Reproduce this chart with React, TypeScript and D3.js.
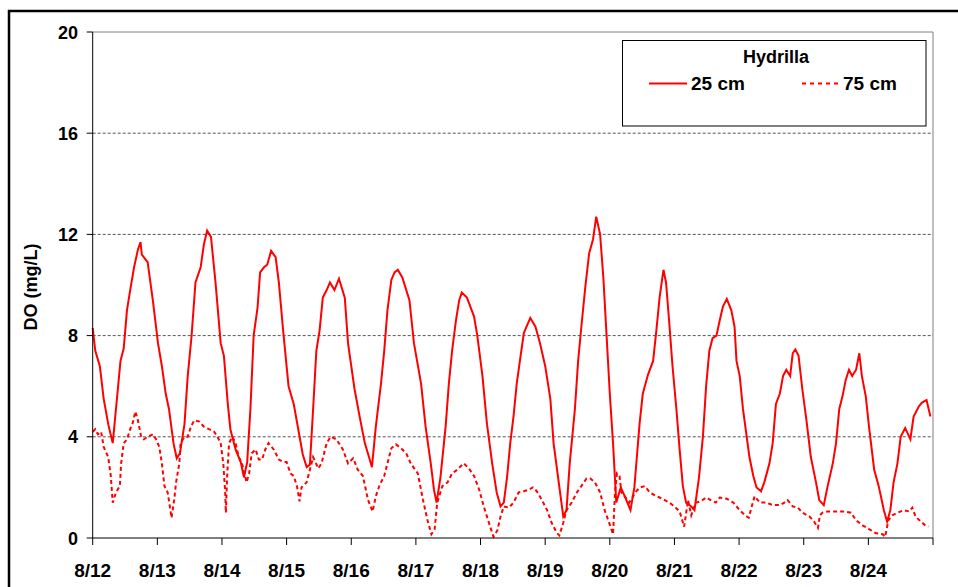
import React from "react";
import * as d3 from "d3";

// Days since 8/12 00:00 and DO (mg/L) at 25 cm depth
const t25 = [
  0.0, 0.04, 0.11, 0.17, 0.24, 0.31, 0.36, 0.43, 0.48, 0.53, 0.58, 0.64, 0.7, 0.74, 0.76, 0.85, 0.93,
  1.01, 1.07, 1.13, 1.18, 1.25, 1.3, 1.35, 1.42, 1.47, 1.53, 1.59, 1.67, 1.72, 1.77, 1.83, 1.9, 1.98,
  2.03, 2.09, 2.13, 2.21, 2.29, 2.34, 2.39, 2.44, 2.49, 2.55, 2.59, 2.65, 2.7, 2.76, 2.83, 2.88, 2.95,
  3.03, 3.11, 3.18, 3.25, 3.31, 3.36, 3.41, 3.46, 3.51, 3.56, 3.62, 3.67, 3.74, 3.81, 3.9, 3.95,
  4.05, 4.13, 4.21, 4.28, 4.32, 4.38, 4.46, 4.51, 4.56, 4.62, 4.67, 4.72, 4.79, 4.9, 4.97,
  5.08, 5.15, 5.23, 5.28, 5.32, 5.38, 5.46, 5.51, 5.56, 5.62, 5.67, 5.71, 5.79, 5.9, 5.95,
  6.03, 6.1, 6.18, 6.25, 6.31, 6.36, 6.41, 6.46, 6.51, 6.56, 6.62, 6.67, 6.72, 6.77, 6.85, 6.92,
  7.0, 7.08, 7.13, 7.21, 7.28, 7.33, 7.38, 7.46, 7.51, 7.56, 7.62, 7.68, 7.74, 7.79, 7.85, 7.9, 7.95,
  8.0, 8.05, 8.1, 8.17, 8.24, 8.32, 8.38, 8.46, 8.51, 8.59, 8.67, 8.72, 8.77, 8.83, 8.87, 8.92, 8.97,
  9.03, 9.08, 9.13, 9.18, 9.26, 9.31, 9.38, 9.44, 9.49, 9.54, 9.59, 9.65, 9.7, 9.75, 9.81, 9.88, 9.93, 9.96,
  10.01, 10.06, 10.11, 10.16, 10.22, 10.27, 10.34, 10.39, 10.47, 10.52, 10.57, 10.63, 10.68, 10.73, 10.79, 10.83, 10.87, 10.92, 10.98,
  11.04, 11.11, 11.19, 11.24, 11.31, 11.37, 11.45, 11.5, 11.55, 11.6, 11.65, 11.7, 11.75, 11.81, 11.86, 11.9, 11.96,
  12.01, 12.09, 12.16, 12.24, 12.29, 12.34, 12.39, 12.45, 12.5, 12.57, 12.65, 12.7, 12.78, 12.83, 12.9, 12.96,
];
const v25 = [
  8.3, 7.4, 6.8, 5.5, 4.5, 3.75, 5.1, 7.0, 7.5, 9.0, 9.8, 10.7, 11.4, 11.7, 11.2, 10.9, 9.4,
  7.7, 6.8, 5.7, 5.1, 3.75, 3.15, 3.35, 4.5, 6.4, 8.0, 10.1, 10.7, 11.6, 12.15, 11.9, 10.1, 7.7,
  7.2, 5.3, 4.3, 3.5, 3.0, 2.4, 3.0, 5.1, 8.0, 9.1, 10.5, 10.7, 10.8, 11.35, 11.1, 10.1, 8.1,
  6.0, 5.3, 4.3, 3.3, 2.8, 2.9, 5.1, 7.4, 8.2, 9.5, 9.8, 10.1, 9.8, 10.25, 9.5, 7.7,
  5.9, 4.8, 3.75, 3.15, 2.8, 4.4, 6.1, 7.4, 9.0, 10.2, 10.5, 10.6, 10.3, 9.4, 7.7,
  6.1, 4.4, 2.95, 1.9, 1.4, 2.4, 4.4, 6.1, 7.4, 8.6, 9.4, 9.7, 9.5, 8.75, 8.0,
  6.4, 4.5, 2.95, 1.8, 1.25, 1.4, 2.4, 3.75, 4.8, 6.1, 7.2, 8.1, 8.4, 8.7, 8.35, 7.7,
  6.8, 5.5, 3.75, 2.2, 0.85, 1.1, 2.95, 5.1, 7.0, 8.35, 9.9, 11.25, 11.8, 12.7, 12.0, 10.3, 8.0,
  5.7, 3.75, 1.4, 2.0, 1.6, 1.1, 2.0, 4.5, 5.7, 6.45, 7.0, 8.2, 9.5, 10.6, 10.1, 8.5, 6.8,
  5.1, 3.5, 2.05, 1.4, 1.25, 1.1, 2.4, 4.0, 6.0, 7.4, 7.9, 8.0, 8.6, 9.15, 9.45, 9.0, 8.35, 7.0,
  6.4, 5.1, 4.15, 3.2, 2.45, 2.0, 1.85, 2.2, 2.95, 3.75, 5.3, 5.7, 6.4, 6.65, 6.4, 7.3, 7.45, 7.2, 5.85,
  4.7, 3.2, 2.2, 1.5, 1.3, 2.05, 2.95, 3.75, 5.1, 5.6, 6.25, 6.65, 6.4, 6.65, 7.3, 6.4, 5.6,
  4.4, 2.7, 2.05, 1.1, 0.65, 1.1, 2.2, 2.95, 4.0, 4.35, 3.9, 4.8, 5.2, 5.35, 5.45, 4.8,
];

// Days since 8/12 00:00 and DO (mg/L) at 75 cm depth
const t75 = [
  0.0, 0.04, 0.08, 0.13, 0.17, 0.24, 0.28, 0.31, 0.36, 0.42, 0.44, 0.48, 0.53, 0.58, 0.62, 0.66, 0.7, 0.75, 0.79, 0.85, 0.93, 0.98,
  1.03, 1.07, 1.11, 1.16, 1.22, 1.26, 1.29, 1.34, 1.36, 1.42, 1.47, 1.52, 1.57, 1.65, 1.72, 1.8, 1.88, 1.93, 1.98,
  2.02, 2.05, 2.06, 2.08, 2.11, 2.16, 2.21, 2.26, 2.31, 2.38, 2.42, 2.46, 2.52, 2.57, 2.62, 2.67, 2.72, 2.8, 2.88, 2.95,
  3.0, 3.06, 3.11, 3.16, 3.2, 3.23, 3.31, 3.41, 3.49, 3.54, 3.62, 3.68, 3.77, 3.87, 3.95,
  4.03, 4.1, 4.18, 4.26, 4.33, 4.38, 4.44, 4.51, 4.56, 4.62, 4.69, 4.77, 4.85, 4.92,
  5.03, 5.11, 5.18, 5.24, 5.29, 5.33, 5.41, 5.49, 5.56, 5.64, 5.74, 5.82, 5.9, 5.98,
  6.05, 6.13, 6.2, 6.26, 6.31, 6.36, 6.44, 6.51, 6.59, 6.67, 6.74, 6.81, 6.87, 6.95,
  7.03, 7.1, 7.18, 7.22, 7.28, 7.33, 7.41, 7.49, 7.56, 7.64, 7.7, 7.77, 7.85, 7.92, 7.99,
  8.05, 8.08, 8.11, 8.15, 8.18, 8.23, 8.3, 8.36, 8.41, 8.47, 8.54, 8.62, 8.69, 8.77, 8.85, 8.92,
  9.0, 9.08, 9.15, 9.21, 9.26, 9.33, 9.41, 9.49, 9.56, 9.64, 9.7, 9.81, 9.91,
  10.01, 10.09, 10.15, 10.18, 10.24, 10.32, 10.42, 10.52, 10.63, 10.7, 10.75, 10.83, 10.91, 10.98,
  11.09, 11.16, 11.22, 11.25, 11.29, 11.37, 11.5, 11.63, 11.73, 11.81, 11.91,
  12.01, 12.11, 12.22, 12.26, 12.31, 12.37, 12.45, 12.55, 12.63, 12.68, 12.73, 12.81, 12.88, 12.93,
];
const v75 = [
  4.2, 4.3, 4.1, 4.2, 3.6, 3.2, 2.45, 1.4, 1.8, 2.05, 2.95, 3.75, 3.9, 4.3, 4.55, 5.0, 4.65, 4.0, 3.9, 4.0, 4.1, 3.9,
  3.6, 2.95, 2.05, 1.8, 0.8, 1.5, 2.2, 2.95, 3.75, 4.0, 4.0, 4.4, 4.65, 4.6, 4.4, 4.3, 4.2, 4.0, 3.75,
  2.95, 1.8, 1.0, 2.45, 3.75, 4.0, 3.75, 3.2, 2.95, 2.2, 2.55, 3.35, 3.5, 3.1, 3.1, 3.5, 3.75, 3.5, 3.1, 3.0,
  3.0, 2.55, 2.45, 2.05, 1.45, 2.0, 2.2, 3.2, 2.75, 2.95, 3.75, 4.0, 3.9, 3.5, 2.95,
  3.15, 2.7, 2.45, 1.5, 1.05, 1.65, 2.1, 2.45, 2.95, 3.55, 3.7, 3.55, 3.35, 2.95,
  2.55, 1.5, 0.7, 0.15, 0.35, 1.4, 2.05, 2.2, 2.55, 2.7, 2.95, 2.75, 2.45, 1.9,
  1.25, 0.6, 0.05, 0.3, 0.85, 1.25, 1.2, 1.4, 1.8, 1.85, 1.9, 2.0, 1.85, 1.5,
  1.1, 0.6, 0.2, 0.1, 0.6, 1.1, 1.4, 1.8, 2.05, 2.35, 2.35, 2.2, 1.8, 1.1, 0.6,
  0.15, 1.8, 2.55, 2.45, 1.8, 1.65, 1.4, 1.65, 1.85, 2.0, 2.05, 1.8, 1.7, 1.6, 1.5, 1.4,
  1.25, 1.05, 0.45, 1.5, 0.9, 1.4, 1.45, 1.6, 1.5, 1.4, 1.6, 1.55, 1.4,
  1.1, 0.9, 0.8, 1.1, 1.65, 1.4, 1.4, 1.3, 1.3, 1.4, 1.5, 1.25, 1.2, 1.0,
  0.85, 0.65, 0.4, 0.9, 1.0, 1.05, 1.05, 1.05, 1.0, 0.7, 0.5,
  0.35, 0.2, 0.15, 0.05, 0.7, 0.9, 1.0, 1.1, 1.05, 1.2, 0.85, 0.65, 0.5, 0.45,
];

const dateLabels = ["8/12", "8/13", "8/14", "8/15", "8/16", "8/17", "8/18", "8/19", "8/20", "8/21", "8/22", "8/23", "8/24"];
const yTicks = [0, 4, 8, 12, 16, 20];
const yTitle = "DO (mg/L)";
const legendTitle = "Hydrilla";
const seriesNames = ["25 cm", "75 cm"];

const W = 958;
const H = 587;
const L = 92.7, R = 933, T = 32, B = 538;
const FONT = "Arial, 'Liberation Sans', Helvetica, sans-serif";
const RED = "#ff0000";

export default function App() {
  const x = d3.scaleLinear().domain([0, 13]).range([L, R]);
  const y = d3.scaleLinear().domain([0, 20]).range([B, T]);
  const line = d3
    .line<[number, number]>()
    .x((d) => x(d[0]))
    .y((d) => y(d[1]));
  const d25 = line(t25.map((t, i) => [t, v25[i]] as [number, number])) || "";
  const d75 = line(t75.map((t, i) => [t, v75[i]] as [number, number])) || "";
  const xTicks = d3.range(0, 14);

  return (
    <svg
      width={W}
      height={H}
      style={{ position: "absolute", left: 0, top: 0, background: "#fff" }}
      fontFamily={FONT}
    >
      <rect x={0} y={0} width={W} height={H} fill="#fff" />
      {/* outer border */}
      <rect x={9} y={11} width={2000} height={2000} fill="none" stroke="#000" strokeWidth={2.5} />

      {/* gridlines */}
      {yTicks
        .filter((v) => v > 0 && v < 20)
        .map((v) => (
          <line key={"g" + v} x1={L} x2={R} y1={y(v)} y2={y(v)} stroke="#555" strokeWidth={1} strokeDasharray="3,2" />
        ))}
      {/* plot frame */}
      <line x1={L} x2={R} y1={T} y2={T} stroke="#808080" strokeWidth={1} />
      <line x1={R} x2={R} y1={T} y2={B} stroke="#808080" strokeWidth={1} />

      {/* series */}
      <path d={d75} fill="none" stroke={RED} strokeWidth={2} strokeDasharray="4,3" />
      <path d={d25} fill="none" stroke={RED} strokeWidth={2} />

      {/* axes */}
      <line x1={L} x2={L} y1={T} y2={B} stroke="#000" strokeWidth={1} />
      <line x1={L} x2={R} y1={B} y2={B} stroke="#000" strokeWidth={1} />
      {yTicks.map((v) => (
        <g key={"y" + v}>
          <line x1={L - 6} x2={L} y1={y(v)} y2={y(v)} stroke="#000" />
          <text x={78} y={y(v) + 6.5} textAnchor="end" fontSize={18} fontWeight="bold">
            {v}
          </text>
        </g>
      ))}
      {xTicks.map((i) => (
        <line key={"x" + i} x1={x(i)} x2={x(i)} y1={B} y2={B + 7} stroke="#000" />
      ))}
      {dateLabels.map((lab, i) => (
        <text key={lab} x={x(i)} y={577} textAnchor="middle" fontSize={19} fontWeight="bold">
          {lab}
        </text>
      ))}
      <text
        transform={`translate(37, ${(T + B) / 2 + 2}) rotate(-90)`}
        textAnchor="middle"
        fontSize={18}
        fontWeight="bold"
      >
        {yTitle}
      </text>

      {/* legend */}
      <rect x={622.5} y={40.5} width={303.5} height={85.5} fill="#fff" stroke="#000" strokeWidth={1} />
      <text x={776} y={63} textAnchor="middle" fontSize={18} fontWeight="bold">
        {legendTitle}
      </text>
      <line x1={649} x2={687} y1={83.5} y2={83.5} stroke={RED} strokeWidth={2} />
      <text x={691} y={90} fontSize={19} fontWeight="bold">
        {seriesNames[0]}
      </text>
      <line x1={802} x2={838} y1={83.5} y2={83.5} stroke={RED} strokeWidth={2} strokeDasharray="4,4" />
      <text x={843} y={90} fontSize={19} fontWeight="bold">
        {seriesNames[1]}
      </text>
    </svg>
  );
}
